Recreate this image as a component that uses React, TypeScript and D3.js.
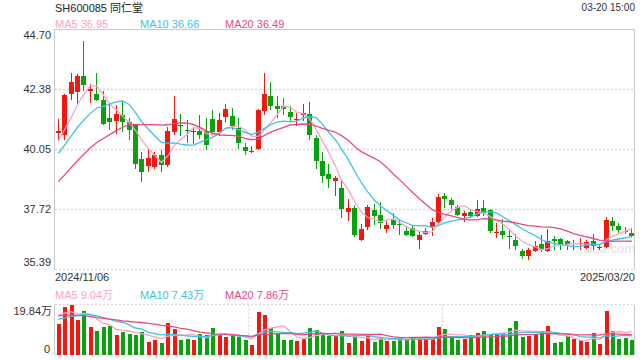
import React from 'react';
import * as d3 from 'd3';

// ---------- data ----------
const title = 'SH600085 同仁堂';
const timeLabel = '03-20 15:00';
const startDate = '2024/11/06';
const endDate = '2025/03/20';
const priceTicks = [44.70, 42.38, 40.05, 37.72, 35.39];
const priceTickLabels = ['44.70', '42.38', '40.05', '37.72', '35.39'];
const volTickLabels = ['19.84万', '0'];
const volMax = 19.84;
const maPeriods = [5, 10, 20];
const priceMaLabels = ['MA5 36.95', 'MA10 36.66', 'MA20 36.49'];
const volMaLabels = ['MA5 9.04万', 'MA10 7.43万', 'MA20 7.86万'];

const opens = [
  40.68, 40.59, 42.18, 42.27, 42.88, 42.31, 42.18, 41.98, 41.27, 41.14,
  41.40, 41.13, 40.98, 39.66, 39.42, 39.38, 39.85, 39.46, 40.72, 41.01,
  40.79, 40.75, 40.75, 40.75, 41.24, 40.72, 41.30, 41.36, 40.89, 40.15,
  39.94, 40.08, 41.53, 42.11, 41.72, 41.75, 41.49, 41.22, 41.40, 41.44,
  40.50, 39.58, 39.11, 38.81, 38.56, 37.63, 37.78, 36.52, 37.04, 37.68,
  37.52, 36.98, 37.33, 37.15, 36.90, 37.01, 36.52, 36.77, 37.04, 37.22,
  38.26, 38.10, 37.82, 37.46, 37.61, 37.48, 37.78, 37.68, 36.82, 36.90,
  36.69, 36.55, 36.10, 35.90, 36.10, 36.36, 36.10, 36.58, 36.58, 36.49,
  36.28, 36.41, 36.23, 36.51, 36.24, 36.25, 37.26, 37.07, 36.87, 36.81,
];
const highs = [
  41.21, 42.18, 43.02, 42.98, 44.27, 42.57, 43.00, 42.31, 41.79, 41.79,
  41.92, 41.27, 41.05, 39.93, 40.12, 39.93, 40.04, 40.90, 42.11, 41.44,
  41.17, 40.89, 41.40, 41.27, 41.56, 41.47, 41.82, 41.66, 41.27, 40.30,
  40.20, 41.62, 43.02, 42.66, 42.11, 42.05, 41.72, 41.47, 41.82, 41.89,
  40.59, 39.93, 39.50, 39.01, 38.81, 38.13, 37.91, 37.17, 37.88, 37.95,
  38.00, 37.29, 37.59, 37.33, 37.07, 37.13, 36.90, 37.01, 37.39, 38.33,
  38.34, 38.17, 37.88, 37.65, 37.72, 38.07, 38.10, 37.72, 37.20, 37.35,
  36.91, 36.75, 36.19, 36.23, 36.49, 36.71, 36.97, 36.68, 36.62, 36.55,
  36.52, 36.62, 36.52, 36.75, 36.36, 37.43, 37.43, 37.20, 37.03, 37.01,
];
const lows = [
  40.43, 40.43, 41.98, 41.79, 42.31, 41.83, 41.92, 40.99, 40.82, 40.66,
  40.73, 40.43, 39.27, 38.80, 39.19, 39.27, 39.19, 39.35, 40.59, 40.56,
  40.30, 40.24, 40.47, 40.04, 40.61, 40.56, 41.10, 40.82, 40.07, 39.82,
  39.92, 40.02, 41.40, 41.57, 41.27, 41.40, 41.14, 40.95, 41.14, 40.43,
  39.27, 38.75, 38.56, 38.26, 37.39, 37.26, 36.67, 36.49, 36.91, 37.13,
  36.98, 36.81, 36.98, 36.71, 36.68, 36.66, 36.19, 36.71, 36.68, 37.20,
  37.78, 37.75, 37.46, 37.24, 37.39, 37.43, 37.48, 36.81, 36.62, 36.58,
  36.19, 36.14, 35.80, 35.75, 36.06, 36.06, 36.08, 36.14, 36.14, 36.14,
  36.14, 36.14, 36.19, 36.16, 36.16, 36.24, 36.87, 36.81, 36.75, 36.66,
];
const closes = [
  40.78, 42.14, 42.66, 42.88, 42.54, 42.40, 41.98, 41.04, 41.10, 41.43,
  41.10, 40.82, 39.50, 39.19, 39.73, 39.82, 39.46, 40.75, 41.21, 40.95,
  40.77, 40.78, 40.59, 40.21, 40.72, 41.17, 41.60, 40.95, 40.30, 39.98,
  39.98, 41.56, 42.18, 41.72, 41.60, 41.60, 41.30, 41.24, 41.47, 40.59,
  39.59, 39.01, 38.92, 38.95, 37.75, 37.78, 36.72, 36.98, 37.82, 37.46,
  37.20, 37.13, 37.11, 37.13, 36.71, 36.68, 36.72, 36.90, 37.24, 38.21,
  38.13, 37.88, 37.52, 37.59, 37.46, 37.75, 37.59, 36.87, 36.84, 36.71,
  36.67, 36.32, 35.90, 36.16, 36.29, 36.14, 36.49, 36.49, 36.36, 36.36,
  36.29, 36.42, 36.45, 36.29, 36.25, 37.30, 37.07, 36.94, 36.84, 36.68,
];
// volume in 万
const volumes = [
  12.0, 18.8, 19.84, 13.6, 17.2, 10.8, 9.2, 10.8, 11.2, 7.7,
  8.8, 8.1, 7.7, 8.8, 4.9, 5.7, 4.5, 12.4, 10.0, 5.7,
  6.2, 5.7, 8.1, 7.7, 10.4, 7.7, 6.9, 7.7, 6.9, 5.7,
  3.7, 16.8, 15.6, 10.4, 8.1, 5.7, 5.7, 5.3, 6.5, 10.4,
  9.6, 7.7, 7.3, 7.3, 9.2, 4.5, 7.3, 5.3, 7.3, 4.9,
  6.9, 5.3, 5.3, 6.5, 6.1, 6.5, 6.5, 6.5, 6.1, 10.8,
  10.0, 6.5, 5.7, 6.1, 7.7, 8.5, 9.2, 8.1, 8.1, 8.5,
  10.4, 13.2, 6.8, 7.2, 8.0, 9.5, 11.2, 4.5, 4.8, 7.2,
  6.0, 5.6, 4.8, 8.4, 4.3, 17.2, 9.4, 6.3, 6.6, 5.7,
];
// sessions before the window, used only for the moving averages
const prevCloses = [
  36.9, 37.1, 37.3, 37.5, 37.6, 37.8, 38.0, 38.1, 38.3, 38.5,
  38.9, 39.2, 39.4, 39.7, 39.85, 39.89, 40.41, 40.28, 40.49,
];
const prevVolumes = [
  14, 16, 18, 19, 19, 17, 17, 16, 15, 16,
  13, 12, 12.5, 12, 12, 14, 17, 18, 16.5,
];

// ---------- style ----------
const RED = '#f2180f';
const GREEN = '#0aa10f';
const MA_COLORS = ['#f7a3c6', '#3fc3e2', '#e94983'];
const FONT = '"Liberation Sans", Arial, "Noto Sans CJK SC", sans-serif';
const GRID = '#dcdcdc';
const AXIS = '#c8c8c8';

function movingAvg(prev: number[], vals: number[], p: number): number[] {
  const full = prev.concat(vals);
  const off = prev.length;
  return vals.map((_, i) => d3.mean(full.slice(off + i - p + 1, off + i + 1)) as number);
}

export default function App() {
  const W = 640, H = 360;
  const left = 55, right = 635;
  const mainTop = 29.5, mainBottom = 269.5;
  const volTop = 304.5, volBottom = 354.5;
  const n = closes.length;

  const x = d3.scaleBand<number>().domain(d3.range(n)).range([left, right])
    .paddingInner(0.38).paddingOuter(0.19);
  const cx = (i: number) => (x(i) as number) + x.bandwidth() / 2;
  const y = d3.scaleLinear().domain([priceTicks[4], priceTicks[0]]).range([mainBottom, mainTop]);
  const yv = d3.scaleLinear().domain([0, volMax]).range([volBottom, volTop]);

  const priceMAs = maPeriods.map(p => movingAvg(prevCloses, closes, p));
  const volMAs = maPeriods.map(p => movingAvg(prevVolumes, volumes, p));
  const pLine = d3.line<number>().x((_, i) => cx(i)).y(d => y(d));
  const vLine = d3.line<number>().x((_, i) => cx(i)).y(d => yv(d));

  const labelX = [55, 140, 225];

  return (
    <svg width={W} height={H} style={{ position: 'absolute', left: 0, top: 0, background: '#fff' }}
      fontFamily={FONT}>
      <rect x={0} y={0} width={W} height={H} fill="#fff" />
      {/* header */}
      <text x={55} y={11.5} fontSize={11} fill="#222">{title}</text>
      <text x={635} y={11.3} fontSize={10} fill="#333" textAnchor="end">{timeLabel}</text>
      {priceMaLabels.map((t, k) => (
        <text key={k} x={labelX[k]} y={27.6} fontSize={11} fill={MA_COLORS[k]}>{t}</text>
      ))}

      {/* main frame & grid */}
      {priceTicks.slice(1, 4).map((t, k) => (
        <line key={k} x1={left} x2={right} y1={Math.round(y(t)) + 0.5} y2={Math.round(y(t)) + 0.5}
          stroke={GRID} strokeWidth={2} strokeDasharray="2,2" />
      ))}
      <line x1={left} x2={right} y1={mainBottom} y2={mainBottom} stroke={GRID} strokeWidth={1.5} strokeDasharray="2,2" />
      <text x={583} y={253} fontSize={13} fill="#dedede">sina.com</text>

      {/* candles */}
      {closes.map((c, i) => {
        const o = opens[i];
        const up = c >= o;
        const col = up ? RED : GREEN;
        const px = Math.round(cx(i) - 0.5);
        const top = y(Math.max(o, c));
        const bot = y(Math.min(o, c));
        return (
          <g key={i} shapeRendering="crispEdges">
            <rect x={px} y={y(highs[i])} width={1} height={Math.max(1, y(lows[i]) - y(highs[i]))} fill={col} />
            <rect x={px - 2} y={top} width={5} height={Math.max(1, bot - top)} fill={col} />
          </g>
        );
      })}

      {/* price MAs */}
      {priceMAs.map((m, k) => (
        <path key={k} d={pLine(m) as string} fill="none" stroke={MA_COLORS[k]} strokeWidth={1.3} />
      ))}

      {/* main axes */}
      <line x1={left - 0.5} x2={right} y1={mainTop} y2={mainTop} stroke={AXIS} />
      <line x1={left - 0.5} x2={left - 0.5} y1={mainTop} y2={mainBottom} stroke={AXIS} />
      <line x1={right - 0.5} x2={right - 0.5} y1={mainTop} y2={mainBottom} stroke={AXIS} />
      {priceTickLabels.map((t, k) => {
        const yy = y(priceTicks[k]);
        const ty = k === 0 ? yy + 9 : k === 4 ? yy - 3.5 : yy + 4;
        return <text key={k} x={51} y={ty} fontSize={11} fill="#333" textAnchor="end">{t}</text>;
      })}

      {/* dates */}
      <text x={55} y={281.3} fontSize={11} fill="#333">{startDate}</text>
      <text x={635} y={281.3} fontSize={11} fill="#333" textAnchor="end">{endDate}</text>

      {/* volume */}
      {volMaLabels.map((t, k) => (
        <text key={k} x={labelX[k]} y={299} fontSize={11} fill={MA_COLORS[k]}>{t}</text>
      ))}
      <line x1={left} x2={right} y1={volTop} y2={volTop} stroke={GRID} strokeWidth={1.5} strokeDasharray="2,2" />
      <line x1={left} x2={right} y1={volBottom} y2={volBottom} stroke={GRID} strokeWidth={1.5} strokeDasharray="2,2" />
      {[1, 2].map(k => {
        const xx = Math.round(left + (right - left) * k / 3) + 0.5;
        return <line key={k} x1={xx} x2={xx} y1={volTop} y2={volBottom} stroke={GRID} strokeWidth={1.5} strokeDasharray="2,2" />;
      })}
      {volumes.map((v, i) => {
        const col = closes[i] >= opens[i] ? RED : GREEN;
        const px = Math.round(cx(i) - 0.5);
        return <rect key={i} x={px - 1} y={yv(v)} width={4} height={volBottom - yv(v)} fill={col} shapeRendering="crispEdges" />;
      })}
      {volMAs.map((m, k) => (
        <path key={k} d={vLine(m) as string} fill="none" stroke={MA_COLORS[k]} strokeWidth={1.3} />
      ))}
      <line x1={left - 0.5} x2={left - 0.5} y1={volTop} y2={volBottom} stroke={AXIS} />
      <line x1={right - 0.5} x2={right - 0.5} y1={volTop} y2={volBottom} stroke={AXIS} />
      <text x={52} y={315} fontSize={11} fill="#333" textAnchor="end">{volTickLabels[0]}</text>
      <text x={50} y={353} fontSize={11} fill="#333" textAnchor="end">{volTickLabels[1]}</text>
    </svg>
  );
}
